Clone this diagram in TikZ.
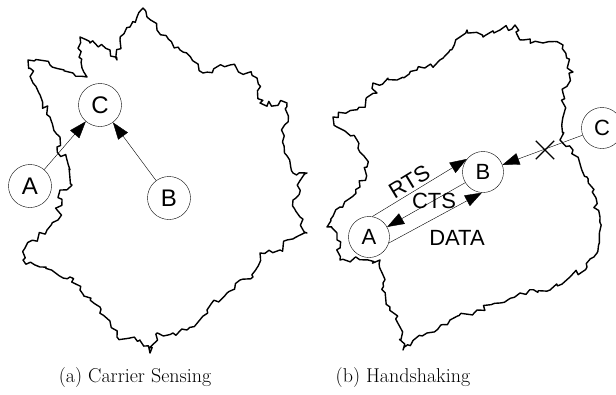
\documentclass[tikz,border=0pt]{standalone}
\usepackage{fontspec}
\newfontfamily\arialfont{Liberation Sans}
\usetikzlibrary{arrows.meta,decorations.pathmorphing,shapes.misc}

\begin{document}
\pgfmathsetseed{7}
\begin{tikzpicture}[
    x=1pt, y=-1pt,
    every node/.style={font=\arialfont\fontsize{22}{26}\selectfont},
    nd/.style={circle, draw=black, thin, fill=white, inner sep=0pt,
               minimum size=41pt},
    big/.style={minimum size=43pt, font=\arialfont\fontsize{24}{28}\selectfont},
    blob/.style={draw=black, line width=1.4pt, line join=round,
                 decorate, decoration={random steps, segment length=4.5pt,
                 amplitude=3.2pt}},
    arr/.style={-{Triangle[length=17pt,width=12pt]}, thin},
    captxt/.style={font=\rmfamily\fontsize{20}{24}\selectfont}
]
\useasboundingbox (0,0) rectangle (616,394);

% coverage areas
\draw[blob] (143,8) -- (157,30) -- (180,50) -- (203,73) -- (230,65)
  -- (257,78) -- (260,103) -- (287,103) -- (283,140) -- (293,173)
  -- (307,173) -- (293,200) -- (300,217) -- (307,233) -- (287,240)
  -- (280,250) -- (260,253) -- (253,277) -- (240,280) -- (227,293)
  -- (207,310) -- (187,330) -- (173,333) -- (157,333) -- (150,353)
  -- (140,340) -- (117,337) -- (100,307) -- (80,290) -- (70,277)
  -- (40,267) -- (23,260) -- (25,248) -- (47,230) -- (58,220)
  -- (60,190) -- (72,185) -- (67,160) -- (57,147) -- (60,137)
  -- (50,117) -- (33,83) -- (28,60) -- (50,65) -- (73,73) -- (87,77)
  -- (82,68) -- (80,37) -- (90,43) -- (110,50) -- (117,60) -- (120,40)
  -- (130,27) -- (137,17) -- cycle;
\draw[blob] (515,25) -- (523,40) -- (543,43) -- (563,45) -- (570,70)
  -- (573,72) -- (563,93) -- (563,117) -- (560,140) -- (573,150)
  -- (587,177) -- (600,217) -- (597,253) -- (587,267) -- (570,277)
  -- (550,290) -- (520,293) -- (500,303) -- (477,310) -- (450,320)
  -- (427,333) -- (403,350) -- (400,327) -- (390,307) -- (383,283)
  -- (380,260) -- (340,260) -- (337,233) -- (327,227) -- (340,207)
  -- (360,187) -- (367,167) -- (357,140) -- (337,127) -- (333,117)
  -- (357,110) -- (377,93) -- (373,83) -- (397,80) -- (417,70)
  -- (437,63) -- (450,50) -- (460,37) -- (467,30) -- (483,37)
  -- (500,30) -- cycle;

% (a) carrier sensing
\node[nd, big] (ca) at (100,105) {C};
\node[nd, big] (aa) at (30,186)  {A};
\node[nd, big] (ba) at (169,198) {B};
\draw[arr] (aa) -- (ca);
\draw[arr] (ba) -- (ca);

% (b) handshaking
\node[nd] (ab) at (369,237) {A};
\node[nd] (bb) at (483,172) {B};
\node[nd] (cb) at (602,128) {C};
\draw[arr] (ab.81) -- node[pos=0.45, sloped, above, inner sep=2.5pt] (rts) {RTS} (bb.141);
\draw[arr] (bb.211) -- node[pos=0.4, inner sep=0pt, yshift=-1pt] (cts) {CTS} (ab.29);
\draw[arr] (ab.-17) -- (bb.267);
\node (data) at (457,238) {DATA};
\draw[arr] (cb) -- (bb);
\node[cross out, draw=black, line width=1.4pt, minimum size=17pt,
      inner sep=0pt] (blk) at (545,150) {};

% captions
\node[captxt] (capa) at (135,378) {(a) Carrier Sensing};
\node[captxt] (capb) at (403,378) {(b) Handshaking};
\end{tikzpicture}
\end{document}
